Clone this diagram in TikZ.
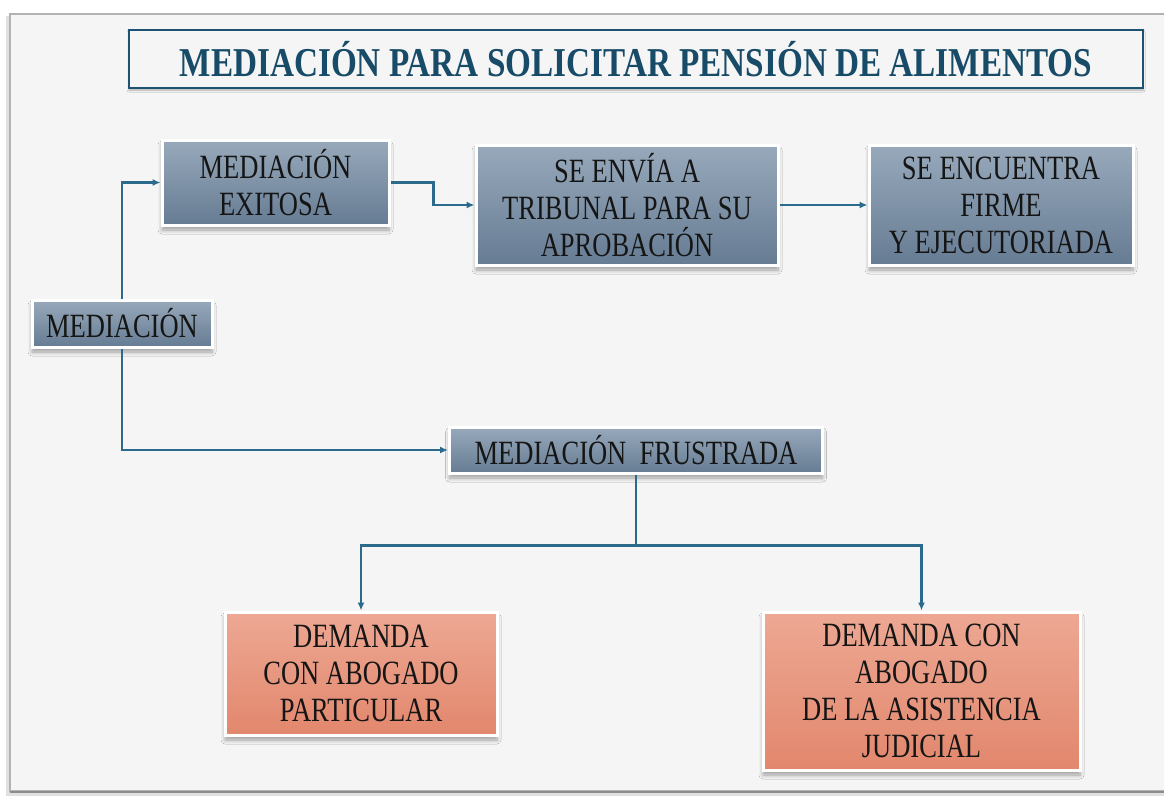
\documentclass[tikz,border=0pt]{standalone}
\usepackage{fontspec}
\usetikzlibrary{shadows,shadows.blur,arrows.meta,calc}
\newfontfamily\boxfontfam[FakeStretch=0.78]{Liberation Serif}
\newfontfamily\titlefontfam[FakeStretch=0.81]{Liberation Serif}
\definecolor{bg}{HTML}{F5F5F5}
\definecolor{titleblue}{HTML}{1E5272}
\definecolor{titletext}{HTML}{174B68}
\definecolor{boxtop}{HTML}{98A9BB}
\definecolor{boxbot}{HTML}{667C93}
\definecolor{boxedge}{HTML}{4E6277}
\definecolor{saltop}{HTML}{EDA893}
\definecolor{salbot}{HTML}{E2876D}
\definecolor{saledge}{HTML}{B86A55}
\definecolor{linecol}{HTML}{2C6A8C}
\definecolor{txt}{HTML}{151515}
\tikzset{
  base/.style={rectangle, inner sep=0pt, align=center, text=txt,
    font=\boxfontfam\fontsize{34}{37}\selectfont,
    draw=white, line width=3pt,
    blur shadow={shadow xshift=0pt, shadow yshift=-5pt, shadow opacity=35, shadow blur steps=6, shadow blur radius=4pt}},
  bluebox/.style={base, top color=boxtop, bottom color=boxbot,
    path picture={\draw[boxedge, line width=3pt] (path picture bounding box.south west) -- (path picture bounding box.south east);}},
  salbox/.style={base, top color=saltop, bottom color=salbot,
    path picture={\draw[saledge, line width=3pt] (path picture bounding box.south west) -- (path picture bounding box.south east);}},
  conn/.style={draw=linecol, line width=2.5pt, -{Latex[length=8pt,width=7pt]}},
  connline/.style={draw=linecol, line width=2.5pt},
}
\begin{document}
\begin{tikzpicture}[x=1pt,y=-1pt]
\useasboundingbox (0,0) rectangle (1164,796);
\fill[white] (0,0) rectangle (1164,796);
% frame
\fill[black!12] (6,16) rectangle (1170,796);
\fill[bg, draw=black!30, line width=1.5pt] (10,14) rectangle (1172,791);
\draw[black!45, line width=2pt] (10,792) -- (1172,792);
% title
\node[rectangle, draw=titleblue, line width=2pt, fill=bg, minimum width=1014pt, minimum height=58pt, inner sep=0pt,
  text=titletext, font=\titlefontfam\bfseries\fontsize{41}{42}\selectfont,
  blur shadow={shadow xshift=0pt, shadow yshift=-2pt, shadow opacity=30, shadow blur steps=4, shadow blur radius=2pt}]
  (title) at (636,59) {MEDIACIÓN PARA SOLICITAR PENSIÓN DE ALIMENTOS};
% boxes
\node[bluebox, minimum width=227pt, minimum height=85pt] (exi) at (275.5,182.5) {MEDIACIÓN\\EXITOSA};
\node[bluebox, minimum width=302pt, minimum height=120pt] (env) at (627,205) {SE ENVÍA A\\TRIBUNAL PARA SU\\APROBACIÓN};
\node[bluebox, minimum width=264pt, minimum height=120pt] (enc) at (1001,205) {SE ENCUENTRA\\FIRME\\Y EJECUTORIADA};
\node[bluebox, minimum width=180pt, minimum height=47pt] (med) at (122,323.5) {MEDIACIÓN};
\node[bluebox, minimum width=373pt, minimum height=46pt] (fru) at (636,450) {MEDIACIÓN\ \ FRUSTRADA};
\node[salbox, minimum width=272pt, minimum height=123pt] (dp) at (361,673.5) {DEMANDA\\CON ABOGADO\\PARTICULAR};
\node[salbox, minimum width=317pt, minimum height=158pt] (dj) at (921.5,691) {DEMANDA CON\\ABOGADO\\DE LA ASISTENCIA\\JUDICIAL};
% connectors
\draw[conn] (med.north) |- (exi.west);
\draw[conn] (exi.east) -- ++(43,0) |- (env.west);
\draw[conn] (env.east) -- (enc.west);
\draw[conn] (med.south) |- (fru.west);
\draw[connline] (fru.south) -- ++(0,71) coordinate (split);
\draw[conn] (split) -| (dp.north);
\draw[conn] (split) -| (dj.north);
\end{tikzpicture}
\end{document}
